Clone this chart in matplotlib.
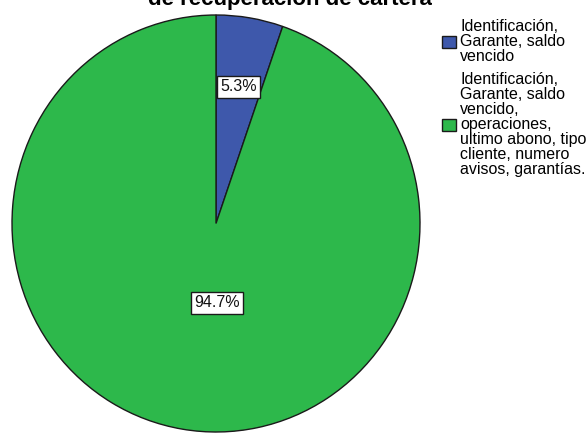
import matplotlib
matplotlib.use("Agg")
import matplotlib.pyplot as plt

# porcentaje de cada grupo de información
categorias = [
    "Identificación,\nGarante, saldo\nvencido",
    "Identificación,\nGarante, saldo\nvencido,\noperaciones,\nultimo abono, tipo\ncliente, numero\navisos, garantías.",
]
porcentajes = [5.3, 94.7]
colores = ["#3e58ab", "#2db84b"]
titulo = "de recuperación de cartera"

plt.rcParams["font.family"] = ["Liberation Sans", "DejaVu Sans"]

fig = plt.figure(figsize=(5.87, 4.33), dpi=100)
W, H = 587, 433

# ejes ajustados al contorno de la torta (ligeramente ovalada)
ax = fig.add_axes([12 / W, 1 / H, 408 / W, 417 / H])
wedges, texts, autotexts = ax.pie(
    porcentajes,
    colors=colores,
    startangle=90,
    counterclock=False,
    autopct="%1.1f%%",
    pctdistance=0.665,
    wedgeprops=dict(edgecolor="#1a1a1a", linewidth=1.0),
    textprops=dict(fontsize=11.5, color="#111111"),
)
ax.set_aspect("auto")
ax.set_xlim(-1, 1)
ax.set_ylim(-1, 1)
ax.axis("off")

for t in autotexts:
    t.set_bbox(dict(facecolor="white", edgecolor="#1a1a1a", linewidth=1.0, pad=2.5))
# la etiqueta del sector grande queda casi sobre la vertical del centro
autotexts[1].set_position((0.005, -0.38))

fig.text(290 / W, 1 - 5 / H, titulo, ha="center", va="baseline",
         fontsize=16, fontweight="bold")

leg = fig.legend(
    wedges, categorias,
    loc="upper left",
    bbox_to_anchor=(442 / W, 1 - 19 / H),
    frameon=False,
    fontsize=11.5,
    handlelength=0.85,
    handleheight=0.85,
    handletextpad=0.3,
    labelspacing=0.5,
    borderpad=0.0,
    borderaxespad=0.0,
)
for t in leg.get_texts():
    t.set_linespacing(1.0)

fig.savefig("out.png", dpi=100)
